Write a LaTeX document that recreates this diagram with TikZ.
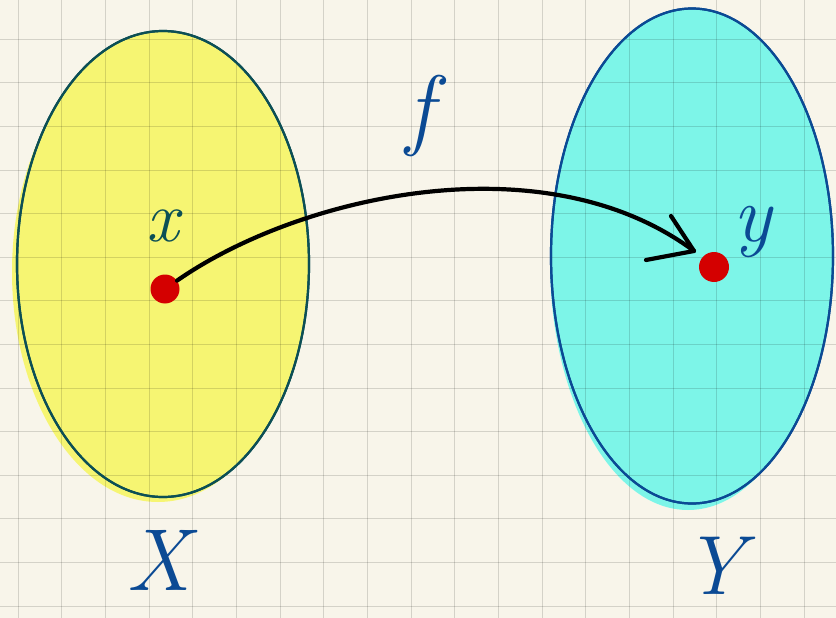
\documentclass[tikz,border=0pt]{standalone}
\usepackage{fontspec}
\setmainfont{Latin Modern Roman}
\usetikzlibrary{shapes.geometric}
\definecolor{paper}{HTML}{F8F5EA}
\definecolor{yel}{HTML}{F6F572}
\definecolor{cya}{HTML}{7DF5E8}
\definecolor{ink}{HTML}{0B4A94}
\definecolor{teal}{HTML}{0C4F55}
\definecolor{dotred}{HTML}{D40000}
\tikzset{
  setshape/.style={ellipse, inner sep=0pt, line width=2.2pt},
  pointdot/.style={circle, fill=dotred, inner sep=0pt, minimum size=29pt},
  gridline/.style={black, opacity=0.14, line width=1pt},
  handlabel/.style={inner sep=0pt, text=ink},
  maparrow/.style={line width=4.2pt, line cap=round, line join=round},
}
\begin{document}
\begin{tikzpicture}[x=1pt,y=-1pt]
\useasboundingbox (0,0) rectangle (836,618);
\fill[paper] (0,0) rectangle (836,618);
% fill blobs slightly offset (hand colouring)
\fill[yel] (158,272) ellipse [x radius=146, y radius=230];
\fill[cya] (688,262) ellipse [x radius=138, y radius=248];
% sets
\node[setshape, draw=teal, fill=yel, minimum width=292pt, minimum height=466pt] (X) at (163,264) {};
\node[setshape, draw=ink, fill=cya, minimum width=282pt, minimum height=495pt] (Y) at (692,256) {};
% grid
\foreach \k in {0,...,18} \draw[gridline] ({18.3+43.65*\k},0) -- ({18.3+43.65*\k},618);
\foreach \k in {0,...,13} \draw[gridline] (0,{39.3+43.6*\k}) -- (836,{39.3+43.6*\k});
% redraw outlines over grid
\draw[teal, line width=2.2pt] (X.center) ellipse [x radius=146, y radius=233];
\draw[ink, line width=2.2pt] (Y.center) ellipse [x radius=141, y radius=247.5];
% points
\node[pointdot] (px) at (165,289) {};
\node[pointdot, minimum size=30pt] (py) at (714,267) {};
% arrow f
\coordinate (tip) at (694,251);
\draw[maparrow] (px) .. controls (300,195) and (545,140) .. (tip);
\draw[maparrow] (646,260) -- (tip) -- (671,216);
% labels
\node[handlabel, text=teal, font=\fontsize{72}{72}\selectfont\itshape] (lx) at (163,226) {x};
\node[handlabel, font=\fontsize{90}{90}\selectfont\itshape] (lf) at (420,116) {f};
\node[handlabel, font=\fontsize{80}{80}\selectfont\itshape] (ly) at (752,232) {y};
\node[handlabel, font=\fontsize{88}{88}\selectfont\itshape] (lX) at (158,560) {X};
\node[handlabel, font=\fontsize{84}{84}\selectfont\itshape] (lY) at (714,566) {Y};
\end{tikzpicture}
\end{document}
